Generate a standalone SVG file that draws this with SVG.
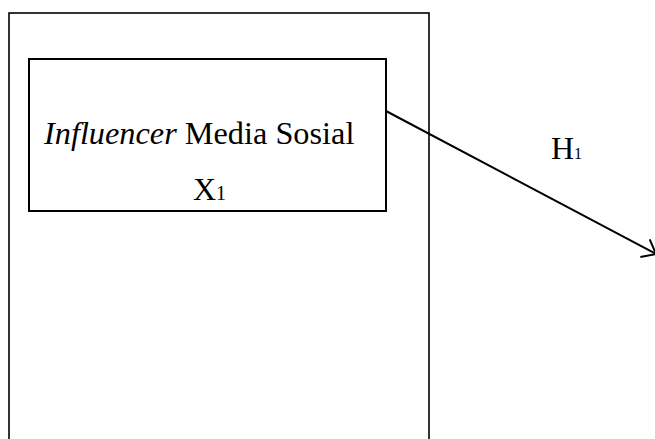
<svg xmlns="http://www.w3.org/2000/svg" width="655" height="439" viewBox="0 0 655 439">
  <style>
    .box { fill: none; stroke: #000; }
    .lbl { font-family: "Liberation Serif", "Times New Roman", serif; fill: #000; }
    .conn { fill: none; stroke: #000; stroke-width: 2; }
  </style>
  <defs>
    <!-- open arrowhead, tip at the marker origin -->
    <marker id="open-arrow" viewBox="-14 -12 16 24" refX="0" refY="0" markerWidth="16" markerHeight="24" markerUnits="userSpaceOnUse" orient="auto" overflow="visible">
      <path d="M -12.4 -10 L 0 0 L -12.4 10" fill="none" stroke="#000" stroke-width="2"/>
    </marker>
  </defs>
  <rect width="655" height="439" fill="#fff"/>

  <!-- outer frame, open past the bottom edge -->
  <g id="frame">
    <rect class="box" x="9" y="13" width="420" height="440" stroke-width="1.6"/>
  </g>

  <!-- variable X1 -->
  <g id="node-x1">
    <rect class="box" x="29" y="59" width="357" height="152" stroke-width="2"/>
    <text class="lbl" x="44" y="144" font-size="32.3"><tspan font-style="italic">Influencer</tspan> Media Sosial</text>
    <text class="lbl" x="193" y="200" font-size="32">X<tspan font-size="20">1</tspan></text>
  </g>

  <!-- hypothesis connector H1 -->
  <g id="connectors">
    <line class="conn" x1="386" y1="111" x2="656" y2="254" marker-end="url(#open-arrow)"/>
    <text class="lbl" x="551" y="159" font-size="32">H<tspan font-size="16">1</tspan></text>
  </g>
</svg>
